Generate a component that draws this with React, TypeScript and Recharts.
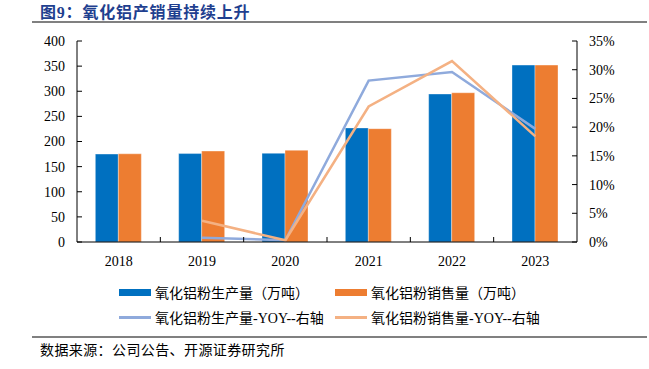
import React from 'react';
import { ComposedChart, Bar, Line, XAxis, YAxis } from 'recharts';

const years = ['2018', '2019', '2020', '2021', '2022', '2023'];
const production = [175, 176, 176.5, 227, 294.5, 352];
const sales = [175.5, 181, 182.5, 225.5, 297, 352];
const productionYoy: (number | null)[] = [null, 0.75, 0.3, 28.1, 29.6, 19.7];
const salesYoy: (number | null)[] = [null, 3.7, 0.3, 23.6, 31.5, 18.4];
const leftTicks = [0, 50, 100, 150, 200, 250, 300, 350, 400];
const rightTicks = [0, 5, 10, 15, 20, 25, 30, 35];

const seriesNames = {
  production: '氧化铝粉生产量（万吨）',
  sales: '氧化铝粉销售量（万吨）',
  productionYoy: '氧化铝粉生产量-YOY--右轴',
  salesYoy: '氧化铝粉销售量-YOY--右轴',
};

const data = years.map((y, i) => ({
  year: y,
  production: production[i],
  sales: sales[i],
  productionYoy: productionYoy[i],
  salesYoy: salesYoy[i],
}));

const BLUE = '#0070C0';
const ORANGE = '#ED7D31';
const LBLUE = '#8FAADC';
const LORANGE = '#F4B183';

const FONT = '"Liberation Serif", "Noto Sans CJK SC", serif';

// category label plus a short inward tick mark at the left boundary of the band
function CategoryTick(props: any) {
  const { x, y, index, payload, width, visibleTicksCount } = props;
  let half = payload && typeof payload.offset === 'number' && payload.offset > 0 ? payload.offset : 0;
  if (!half && width && visibleTicksCount) half = width / visibleTicksCount / 2;
  const bx = x - half;
  return (
    <g>
      {index > 0 && half > 0 ? <line x1={bx} x2={bx} y1={y} y2={y - 5} stroke="#000" strokeWidth={1} /> : null}
      <text x={x} y={y} dy={24} textAnchor="middle" fill="#000" fontSize={14} fontFamily='"Liberation Serif", serif'>
        {payload.value}
      </text>
    </g>
  );
}

const tickStyle = { fill: '#000', fontSize: 14, fontFamily: '"Liberation Serif", serif' };

function LegendItem({ color, label, kind }: { color: string; label: string; kind: 'bar' | 'line' }) {
  return (
    <div style={{ display: 'flex', alignItems: 'center', width: 216 }}>
      <div style={{ width: 32, height: kind === 'bar' ? 7 : 3, background: color, marginRight: 4 }} />
      <span style={{ fontSize: 14, fontFamily: FONT, color: '#000', whiteSpace: 'nowrap' }}>{label}</span>
    </div>
  );
}

export default function App() {
  return (
    <div style={{ position: 'absolute', left: 0, top: 0, width: 649, height: 369, background: '#fff' }}>
      <div
        style={{
          position: 'absolute',
          left: 40,
          top: 3,
          fontSize: 16,
          fontWeight: 'bold',
          color: '#1F3F8F',
          fontFamily: '"Liberation Serif", "Noto Sans CJK SC", serif',
          lineHeight: '20px',
          whiteSpace: 'nowrap',
          letterSpacing: 0.8,
        }}
      >
        图9：氧化铝产销量持续上升
      </div>
      <div style={{ position: 'absolute', left: 32, top: 21, width: 615, height: 1.5, background: '#808080' }} />
      <div style={{ position: 'absolute', left: 0, top: 0 }}>
        <ComposedChart width={649} height={272} data={data} margin={{ top: 41, right: 0, left: 0, bottom: 0 }} barCategoryGap="22%" barGap={0}>
          <XAxis
            dataKey="year"
            height={30}
            tickLine={false}
            tickSize={0}
            tickMargin={0}
            axisLine={{ stroke: '#000' }}
            tick={<CategoryTick />}
            interval={0}
          />
          <YAxis
            yAxisId="left"
            width={77}
            domain={[0, 400]}
            ticks={leftTicks}
            interval={0}
            axisLine={{ stroke: '#000' }}
            tickLine={{ stroke: '#000' }}
            tickSize={-5}
            tickMargin={17}
            tick={tickStyle}
          />
          <YAxis
            yAxisId="right"
            orientation="right"
            width={72}
            domain={[0, 35]}
            ticks={rightTicks}
            interval={0}
            axisLine={{ stroke: '#000' }}
            tickLine={{ stroke: '#000' }}
            tickSize={-5}
            tickMargin={17}
            tick={tickStyle}
            tickFormatter={(v: number) => `${v}%`}
          />
          <Bar yAxisId="left" dataKey="production" name={seriesNames.production} fill={BLUE} stroke="#ffffff" strokeOpacity={0.35} strokeWidth={1} isAnimationActive={false} />
          <Bar yAxisId="left" dataKey="sales" name={seriesNames.sales} fill={ORANGE} stroke="#ffffff" strokeOpacity={0.35} strokeWidth={1} isAnimationActive={false} />
          <Line yAxisId="right" dataKey="productionYoy" name={seriesNames.productionYoy} stroke={LBLUE} strokeWidth={2.5} dot={false} isAnimationActive={false} />
          <Line yAxisId="right" dataKey="salesYoy" name={seriesNames.salesYoy} stroke={LORANGE} strokeWidth={2.5} dot={false} isAnimationActive={false} />
        </ComposedChart>
      </div>
      <div style={{ position: 'absolute', left: 119, top: 282 }}>
        <div style={{ display: 'flex', height: 20 }}>
          <LegendItem color={BLUE} label={seriesNames.production} kind="bar" />
          <LegendItem color={ORANGE} label={seriesNames.sales} kind="bar" />
        </div>
        <div style={{ display: 'flex', height: 20, marginTop: 5 }}>
          <LegendItem color={LBLUE} label={seriesNames.productionYoy} kind="line" />
          <LegendItem color={LORANGE} label={seriesNames.salesYoy} kind="line" />
        </div>
      </div>
      <div style={{ position: 'absolute', left: 32, top: 336, width: 615, height: 1.5, background: '#808080' }} />
      <div
        style={{
          position: 'absolute',
          left: 40,
          top: 341,
          fontSize: 14,
          fontFamily: FONT,
          color: '#000',
          lineHeight: '20px',
          whiteSpace: 'nowrap',
          letterSpacing: 0.4,
        }}
      >
        数据来源：公司公告、开源证券研究所
      </div>
    </div>
  );
}
